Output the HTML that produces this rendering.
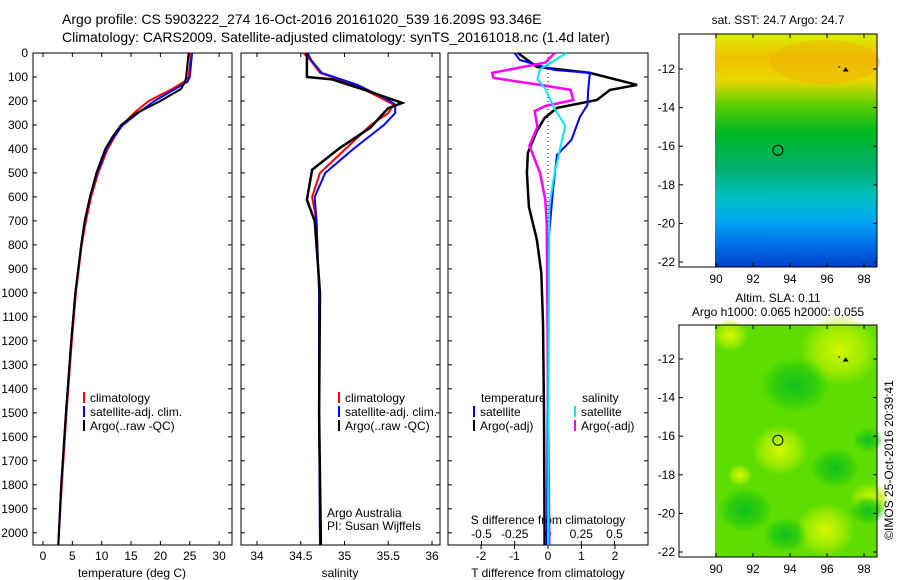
<!DOCTYPE html>
<html><head><meta charset="utf-8"><style>
body{margin:0;background:#fff;}
svg{display:block;font-family:"Liberation Sans",sans-serif;font-size:12px;}
</style></head><body>
<svg id="c" width="900" height="580">
<defs>
<linearGradient id="sst" x1="0" y1="0" x2="0" y2="1">
<stop offset="0" stop-color="#d8f000"/><stop offset="0.1" stop-color="#f0c000"/><stop offset="0.2" stop-color="#e8d800"/>
<stop offset="0.3" stop-color="#60d000"/><stop offset="0.42" stop-color="#00b820"/><stop offset="0.58" stop-color="#00b070"/>
<stop offset="0.7" stop-color="#00c0c0"/><stop offset="0.8" stop-color="#00a8f0"/><stop offset="0.9" stop-color="#0070e8"/><stop offset="1" stop-color="#0040c8"/>
</linearGradient>
<radialGradient id="y1" cx="0.5" cy="0.5" r="0.5"><stop offset="0" stop-color="#d8f800"/><stop offset="0.6" stop-color="#b8f000" stop-opacity="0.7"/><stop offset="1" stop-color="#b8f000" stop-opacity="0"/></radialGradient>
<radialGradient id="g1" cx="0.5" cy="0.5" r="0.5"><stop offset="0" stop-color="#10c020"/><stop offset="0.6" stop-color="#20c810" stop-opacity="0.7"/><stop offset="1" stop-color="#20c810" stop-opacity="0"/></radialGradient>
</defs>
<g id="root"></g>
</svg>
<script>
const depthT=[0,50,100,120,150,200,250,300,350,400,500,600,700,800,1000,1200,1500,1800,2050];
const tempClim=[25.2,25,24.8,24,22,18,15.5,13.5,12.2,11,9.4,8.2,7.3,6.6,5.6,4.9,4,3.2,2.6];
const tempSat=[25.4,25.2,25,24.6,22.5,19,16.2,13.6,12,10.8,9.2,8,7.1,6.5,5.5,4.8,3.9,3.1,2.6];
const tempArgo=[24.8,24.6,24.4,24.2,23.5,20,16,13.3,11.8,10.6,9.1,8,7.1,6.5,5.5,4.8,3.9,3.1,2.6];
const depthSC=[0,30,83,133,196,215,250,300,400,500,600,700,1000,1500,2050];
const salClim=[34.53,34.61,34.72,35.12,35.46,35.56,35.5,35.3,35.01,34.72,34.63,34.68,34.71,34.71,34.72];
const salSat=[34.58,34.62,34.74,35.15,35.5,35.58,35.58,35.45,35.1,34.78,34.66,34.68,34.71,34.71,34.72];
const depthSA=[0,50,100,110,150,208,230,245,310,395,487,612,700,1000,1500,2050];
const salArgo=[34.57,34.57,34.57,34.86,35.2,35.66,35.5,35.46,35.3,34.95,34.63,34.57,34.66,34.72,34.71,34.73];
const depthTS=[0,29,71,83,154,216,267,362,425,570,779,1200,2050];
const tdSat=[-1.0,-0.84,0.2,1.25,1.2,1.18,0.95,0.7,0.27,0.15,0.02,0.0,-0.03];
const depthTA=[0,58,83,133,154,196,229,271,325,416,500,641,779,916,1125,1500,2050];
const tdArgo=[-0.9,-0.33,1.25,2.66,1.85,1.46,0.27,-0.1,-0.33,-0.6,-0.63,-0.57,-0.33,-0.2,-0.15,-0.12,-0.1];
const depthSM=[0,40,83,104,133,154,196,221,242,308,387,500,612,708,2050];
const sdArgo=[0.05,-0.02,-0.42,-0.41,-0.06,0.17,0.19,-0.02,-0.1,-0.08,-0.14,-0.06,-0.02,-0.01,0.01];
const depthSY=[0,40,67,108,150,233,304,400,500,637,2050];
const sdSat=[0.14,0.02,-0.06,-0.08,-0.02,0.05,0.13,0.09,0.05,0.01,0.0];
const depthTicks=[0,100,200,300,400,500,600,700,800,900,1000,1100,1200,1300,1400,1500,1600,1700,1800,1900,2000];
const tempTicks=[0,5,10,15,20,25,30];
const salTicks=[34,34.5,35,35.5,36];
const tdTicks=[-2,-1,0,1,2];
const sdTicks=["-0.5","-0.25","0","0.25","0.5"];
const latTicks=[-12,-14,-16,-18,-20,-22];
const lonTicks=[90,92,94,96,98];

const NS="http://www.w3.org/2000/svg";
const root=document.getElementById('root');
function el(t,a,p){const e=document.createElementNS(NS,t);for(const k in a)e.setAttribute(k,a[k]);(p||root).appendChild(e);return e;}
function txt(x,y,s,anchor,name){const t=el('text',{x:x,y:y,'text-anchor':anchor||'middle',fill:'#000'});t.textContent=s;


return t;}
const Y=d=>53+d*0.2399;
const PT=53, PB=545;
function frame(x0,x1,name){const r=el('rect',{x:x0,y:PT,width:x1-x0,height:PB-PT,fill:'none',stroke:'#000','stroke-width':1});

}
function line(xs,ds,X,color,w,dash,name){const p=el('path',{d:xs.map((v,i)=>(i?'L':'M')+X(v).toFixed(1)+','+Y(ds[i]).toFixed(1)).join(''),fill:'none',stroke:color,'stroke-width':w||2});
if(dash)p.setAttribute('stroke-dasharray',dash);

}
const P1=[33,232],P2=[241,440],P3=[448,648];
const XT=v=>43+v*5.87, XS=v=>257+(v-34)*87.5, XTD=v=>548+v*33.5, XSD=v=>548+v*133;
[P1,P2,P3].forEach((p,i)=>{frame(p[0],p[1],'profile-panel-'+(i+1));});
depthTicks.forEach(d=>{txt(28,Y(d)+4,String(d),'end','depth-tick-label');
[P1,P2,P3].forEach(p=>{el('line',{x1:p[0],x2:p[0]+4,y1:Y(d),y2:Y(d),stroke:'#000'});el('line',{x1:p[1],x2:p[1]-4,y1:Y(d),y2:Y(d),stroke:'#000'});});});
function xticks(vals,X){vals.forEach(v=>{const x=X(v);
el('line',{x1:x,x2:x,y1:PB,y2:PB-4,stroke:'#000'});el('line',{x1:x,x2:x,y1:PT,y2:PT+4,stroke:'#000'});
txt(x,560,String(v),'middle','x-tick-label');});}
xticks(tempTicks,XT);
xticks(salTicks,XS);
tdTicks.forEach(v=>{const x=XTD(v);el('line',{x1:x,x2:x,y1:PB,y2:PB+4,stroke:'#000'});txt(x,560,String(v),'middle','t-diff-tick');});
sdTicks.forEach(v=>{const x=XSD(parseFloat(v));el('line',{x1:x,x2:x,y1:PB,y2:PB-4,stroke:'#000'});txt(x,538,v,'middle','s-diff-tick');});
txt(132,577,'temperature (deg C)','middle','x-axis-title-temperature');
txt(340,577,'salinity','middle','x-axis-title-salinity');
txt(548,577,'T difference from climatology','middle','x-axis-title-t-diff');
txt(548,524,'S difference from climatology','middle','x-axis-title-s-diff');
const t1=txt(62,24,'Argo profile: CS 5903222_274 16-Oct-2016 20161020_539 16.209S 93.346E','start','title-line-1');
t1.setAttribute('font-size','14');
const t2=txt(62,42,'Climatology: CARS2009. Satellite-adjusted climatology: synTS_20161018.nc (1.4d later)','start','title-line-2');
t2.setAttribute('font-size','14');
const z=el('line',{x1:XTD(0),x2:XTD(0),y1:Y(0),y2:PB,stroke:'#000','stroke-dasharray':'1,3'});


line(tempClim,depthT,XT,'#f00',2,null,'temp-climatology');
line(tempSat,depthT,XT,'#00f',2,null,'temp-satellite');
line(tempArgo,depthT,XT,'#000',2,null,'temp-argo');
line(salClim,depthSC,XS,'#f00',2,null,'sal-climatology');
line(salSat,depthSC,XS,'#00f',2,null,'sal-satellite');
line(salArgo,depthSA,XS,'#000',2.5,null,'sal-argo');
line(tdArgo,depthTA,XTD,'#000',2.5,null,'tdiff-argo');
line(tdSat,depthTS,XTD,'#00f',2,null,'tdiff-satellite');
line(sdArgo,depthSM,XSD,'#f0f',2.5,null,'sdiff-argo');
line(sdSat,depthSY,XSD,'#0ee',2,null,'sdiff-satellite');
function leg(x,y,color,label,name){el('line',{x1:x,x2:x,y1:y-10,y2:y+1,stroke:color,'stroke-width':2});txt(x+6,y,label,'start',name);}
leg(84,402,'#f00','climatology','legend-climatology');leg(84,416,'#00f','satellite-adj. clim.','legend-satellite');leg(84,430,'#000','Argo(..raw -QC)','legend-argo');
leg(339,402,'#f00','climatology','legend2-climatology');leg(339,416,'#00f','satellite-adj. clim.','legend2-satellite');leg(339,430,'#000','Argo(..raw -QC)','legend2-argo');
txt(481,402,'temperature','start','legend3-temp-header');txt(582,402,'salinity','start','legend3-sal-header');
leg(474,416,'#00f','satellite','legend3-t-sat');leg(474,430,'#000','Argo(-adj)','legend3-t-argo');
leg(575,416,'#0ee','satellite','legend3-s-sat');leg(575,430,'#f0f','Argo(-adj)','legend3-s-argo');
txt(327,517,'Argo Australia','start','credit-1');txt(327,530,'PI: Susan Wijffels','start','credit-2');
function map(top,bot,y12,fillFn,name){
 const sc=19.3;
 fillFn(top,bot);
 const f=el('rect',{x:679,y:top,width:198,height:bot-top,fill:'none',stroke:'#000'});
 
 
 latTicks.forEach(v=>{const y=y12+((-v)-12)*sc;el('line',{x1:877,x2:873,y1:y,y2:y,stroke:'#000'});el('line',{x1:679,x2:683,y1:y,y2:y,stroke:'#000'});txt(675,y+4,String(v),'end','lat-tick');});
 lonTicks.forEach(v=>{const x=716+(v-90)*18.5;el('line',{x1:x,x2:x,y1:bot,y2:bot-4,stroke:'#000'});el('line',{x1:x,x2:x,y1:top,y2:top+4,stroke:'#000'});txt(x,bot+16,String(v),'middle','lon-tick');});
 const lonx=716+(93.346-90)*18.5, laty=y12+(16.209-12)*sc;
 const c=el('circle',{cx:lonx,cy:laty,r:5,fill:'none',stroke:'#000'});
 
 
 el('path',{d:`M${716+6.6*18.5},${y12-2} l2,0 M${716+6.9*18.5},${y12+2} l2,-3 l2,3z`,stroke:'#000',fill:'#000'});
}
map(34,267,69,(t,b)=>{el('rect',{x:715,y:t,width:162,height:b-t,fill:'url(#sst)'});
 el('ellipse',{cx:825,cy:62,rx:55,ry:22,fill:'#f0b000',opacity:0.45});},'sst-map');
map(325,557,359,(t,b)=>{el('rect',{x:715,y:t,width:162,height:b-t,fill:'#5ede00'});
 [[840,350,40],[780,450,28],[825,530,30],[730,335,18],[870,500,20],[740,475,12]].forEach(a=>el('ellipse',{cx:a[0],cy:a[1],rx:a[2],ry:a[2]*0.9,fill:'url(#y1)'}));
 [[795,385,35],[745,510,28],[835,468,25],[785,535,22],[868,440,15],[868,510,18]].forEach(a=>el('ellipse',{cx:a[0],cy:a[1],rx:a[2],ry:a[2]*0.8,fill:'url(#g1)'}));},'sla-map');
txt(778,24,'sat. SST: 24.7 Argo: 24.7','middle','sst-map-title');
txt(778,302,'Altim. SLA: 0.11','middle','sla-map-title-1');
txt(778,316,'Argo h1000: 0.065 h2000: 0.055','middle','sla-map-title-2');
const st=txt(893,460,'©IMOS 25-Oct-2016 20:39:41','middle','timestamp');
st.setAttribute('transform','rotate(-90 893 460)');
</script>
</body></html>
